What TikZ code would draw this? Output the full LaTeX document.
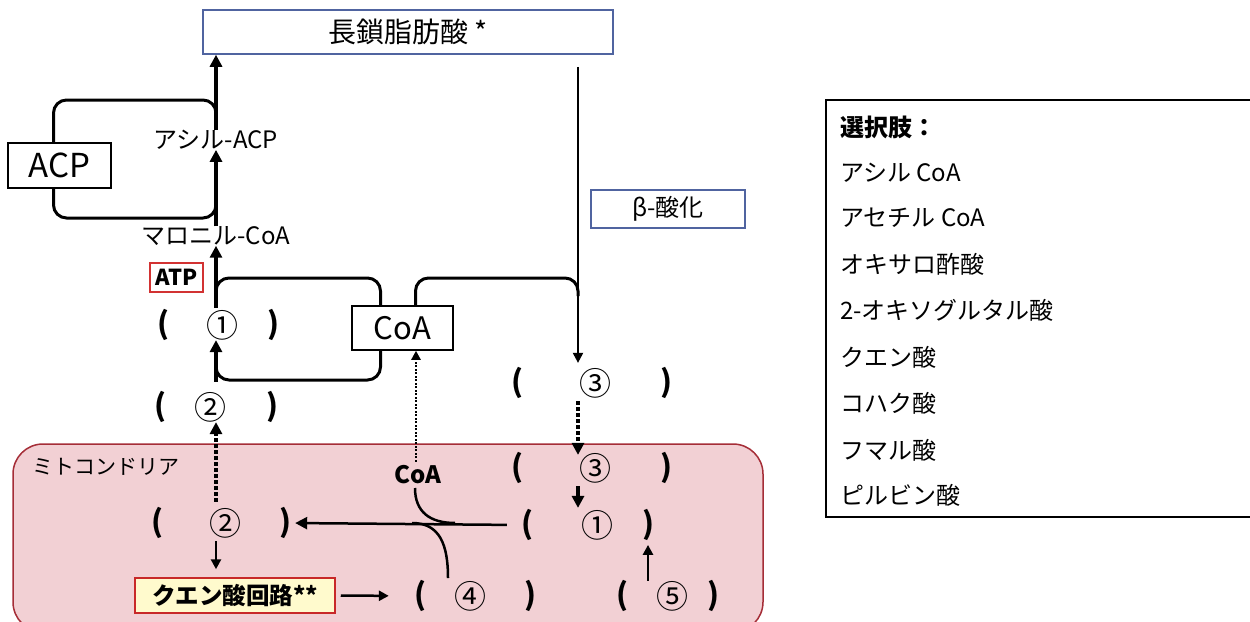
\documentclass[tikz,border=0pt]{standalone}
\usepackage{fontspec}
\setmainfont{Noto Sans CJK JP}
\usetikzlibrary{arrows.meta}
\definecolor{bluegray}{RGB}{80,100,160}
\definecolor{pinkfill}{RGB}{242,208,212}
\definecolor{mitoborder}{RGB}{165,45,55}
\definecolor{atpred}{RGB}{210,50,50}
\definecolor{kuenfill}{RGB}{255,250,205}
\definecolor{kuenborder}{RGB}{200,40,40}
\tikzset{
  txt/.style={inner sep=0pt},
  big/.style={txt,font=\fontsize{28}{32}\selectfont},
  mid/.style={txt,font=\fontsize{24}{28}\selectfont},
  opt/.style={txt,anchor=west,font=\fontsize{24}{28}\selectfont},
  par/.style={txt,font=\bfseries\fontsize{30}{34}\selectfont},
  num/.style={txt,font=\fontsize{32}{36}\selectfont},
  bluebox/.style={draw=bluegray,line width=1.5pt,inner sep=0pt},
  blackbox/.style={draw=black,line width=1.5pt,inner sep=0pt},
  arr/.style={line width=3.5pt,-{Triangle[length=12pt,width=12pt]}},
  thinarr/.style={line width=2.5pt,-{Triangle[length=10pt,width=10pt]}},
  dotarr/.style={line width=3.5pt,dash pattern=on 3.5pt off 2.5pt,-{Triangle[length=12pt,width=12pt]}},
  smalldot/.style={line width=2.5pt,dash pattern=on 2pt off 1.5pt,-{Triangle[length=9pt,width=9pt]}},
  loopline/.style={line width=3pt,rounded corners=13pt},
}
\begin{document}
\begin{tikzpicture}[x=1pt,y=-1pt]
\useasboundingbox (0,0) rectangle (1250,621);
% mitochondrion
\draw[fill=pinkfill,draw=mitoborder,line width=1.5pt,rounded corners=30pt] (13,444) rectangle (763,632);
\node[opt,font=\fontsize{21}{24}\selectfont] (mitolab) at (32,467) {ミトコンドリア};

\coordinate (col) at (216,0);
\coordinate (bx) at (578,0);

% boxes
\node[bluebox,big,minimum width=410pt,minimum height=44pt] (lcfa) at (408,32) {長鎖脂肪酸 *};
\node[blackbox,big,font=\fontsize{33}{36}\selectfont,minimum width=103pt,minimum height=45pt] (acp) at (59.5,165.5) {ACP};
\node[mid] (acylacp) at (216,140) {アシル-ACP};
\node[mid] (malonyl) at (216,236) {マロニル-CoA};
\node[draw=atpred,line width=1.2pt,inner sep=0pt,minimum width=53pt,minimum height=29pt,font=\bfseries\fontsize{22}{24}\selectfont] (atp) at (176.5,277.5) {ATP};
\node[blackbox,big,font=\fontsize{31}{34}\selectfont,minimum width=101pt,minimum height=44pt] (coa) at (402.5,328) {CoA};
\node[bluebox,mid,minimum width=154pt,minimum height=38pt] (beta) at (668,209) {β-酸化};
\node[draw=kuenborder,fill=kuenfill,line width=1.5pt,inner sep=0pt,minimum width=200pt,minimum height=35pt,font=\bfseries\fontsize{23.5}{26}\selectfont] (kuen) at (235,595.5) {クエン酸回路**};
\node[txt,font=\bfseries\fontsize{24}{26}\selectfont] (coam) at (418,475) {CoA};

% blanks
\node[par] (lp1a) at (163,325) {(}; \node[num] (c1a) at (222,325) {①}; \node[par] (rp1a) at (273,325) {)};
\node[par] (lp2a) at (160,407) {(}; \node[num] (c2a) at (210,407) {②}; \node[par] (rp2a) at (272,407) {)};
\node[par] (lp3a) at (517,383) {(}; \node[num] (c3a) at (595,383) {③}; \node[par] (rp3a) at (666,383) {)};
\node[par] (lp3m) at (517,468) {(}; \node[num] (c3m) at (595,468) {③}; \node[par] (rp3m) at (666,468) {)};
\node[par] (lp1m) at (527,525) {(}; \node[num] (c1m) at (597,525) {①}; \node[par] (rp1m) at (648,525) {)};
\node[par] (lp2m) at (157,523) {(}; \node[num] (c2m) at (225,523) {②}; \node[par] (rp2m) at (285,523) {)};
\node[par] (lp4) at (420,596) {(}; \node[num] (c4) at (470,596) {④}; \node[par] (rp4) at (530,596) {)};
\node[par] (lp5) at (622,596) {(}; \node[num] (c5) at (672,596) {⑤}; \node[par] (rp5) at (713,596) {)};

% main column arrows
\draw[arr] (acylacp.north) -- (acylacp.north |- lcfa.south);
\draw[arr] (malonyl.north) -- (malonyl.south |- acylacp.south);
\draw[arr,shorten <=2pt] (c1a.north -| col) -- (malonyl.south);
\draw[arr,shorten <=10pt] (c2a.north -| col) -- (c1a.south -| col);
\draw[dotarr,shorten <=6pt] (c2m.north -| col) -- (c2a.south -| col);
\draw[thinarr,shorten <=3pt,shorten >=8pt] (c2m.south -| col) -- (kuen.north -| col);

% ACP loop
\draw[loopline] ([xshift=-6pt]acp.north) -- ([xshift=-6pt]acp.north |- 0,100) -- (216,100) -- (216,124);
\draw[loopline] ([xshift=-6pt]acp.south) -- ([xshift=-6pt]acp.south |- 0,218) -- (216,218) -- (216,198);

% CoA loops
\draw[loopline] (216,302) -- (216,278) -- ([xshift=-22pt]coa.north |- 0,278) -- ([xshift=-22pt]coa.north);
\draw[loopline] ([xshift=13pt]coa.north) -- ([xshift=13pt]coa.north |- 0,278) -- (578,278) -- (578,296);
\draw[loopline] ([xshift=-22pt]coa.south) -- ([xshift=-22pt]coa.south |- 0,380) -- (216,380) -- (216,362);

% beta oxidation
\draw[thinarr,line width=2pt,shorten <=12pt,shorten >=5pt] (lcfa.south -| bx) -- (c3a.north -| bx);
\draw[dotarr,shorten <=3pt,shorten >=-2pt] (c3a.south -| bx) -- (c3m.north -| bx);
\draw[arr,shorten <=3pt,shorten >=2pt] (c3m.south -| bx) -- (c1m.north -| bx);

% CoA release
\draw[smalldot,shorten <=4pt] ([xshift=-2pt]coam.north) -- ([xshift=-2pt]coam.north |- coa.south);
\draw[arr,line width=2.5pt,shorten <=14pt,shorten >=4pt] (lp1m.west) -- (rp2m.east);
\draw[line width=2.5pt] (415,488) .. controls (415,512) and (430,523) .. (455,523);
\coordinate (oaa) at (448,578);
\draw[line width=2.5pt] (oaa) .. controls (448,545) and (440,523) .. (412,523);

% TCA
\draw[thinarr,shorten <=5pt,shorten >=25pt] (kuen.east) -- (lp4.west);
\draw[thinarr,shorten <=0pt,shorten >=4pt] (c5.north -| rp1m) -- (rp1m.south);

% options
\draw[line width=2pt] (1256,100) -- (826,100) -- (826,517) -- (1256,517);
\node[opt,font=\bfseries\fontsize{24}{28}\selectfont] (o0) at (840,127) {選択肢：};
\node[opt] (o1) at (840,173) {アシル CoA};
\node[opt] (o2) at (840,218) {アセチル CoA};
\node[opt] (o3) at (840,264) {オキサロ酢酸};
\node[opt] (o4) at (840,310) {2-オキソグルタル酸};
\node[opt] (o5) at (840,357) {クエン酸};
\node[opt] (o6) at (840,403) {コハク酸};
\node[opt] (o7) at (840,450) {フマル酸};
\node[opt] (o8) at (840,495) {ピルビン酸};
\end{tikzpicture}
\end{document}
